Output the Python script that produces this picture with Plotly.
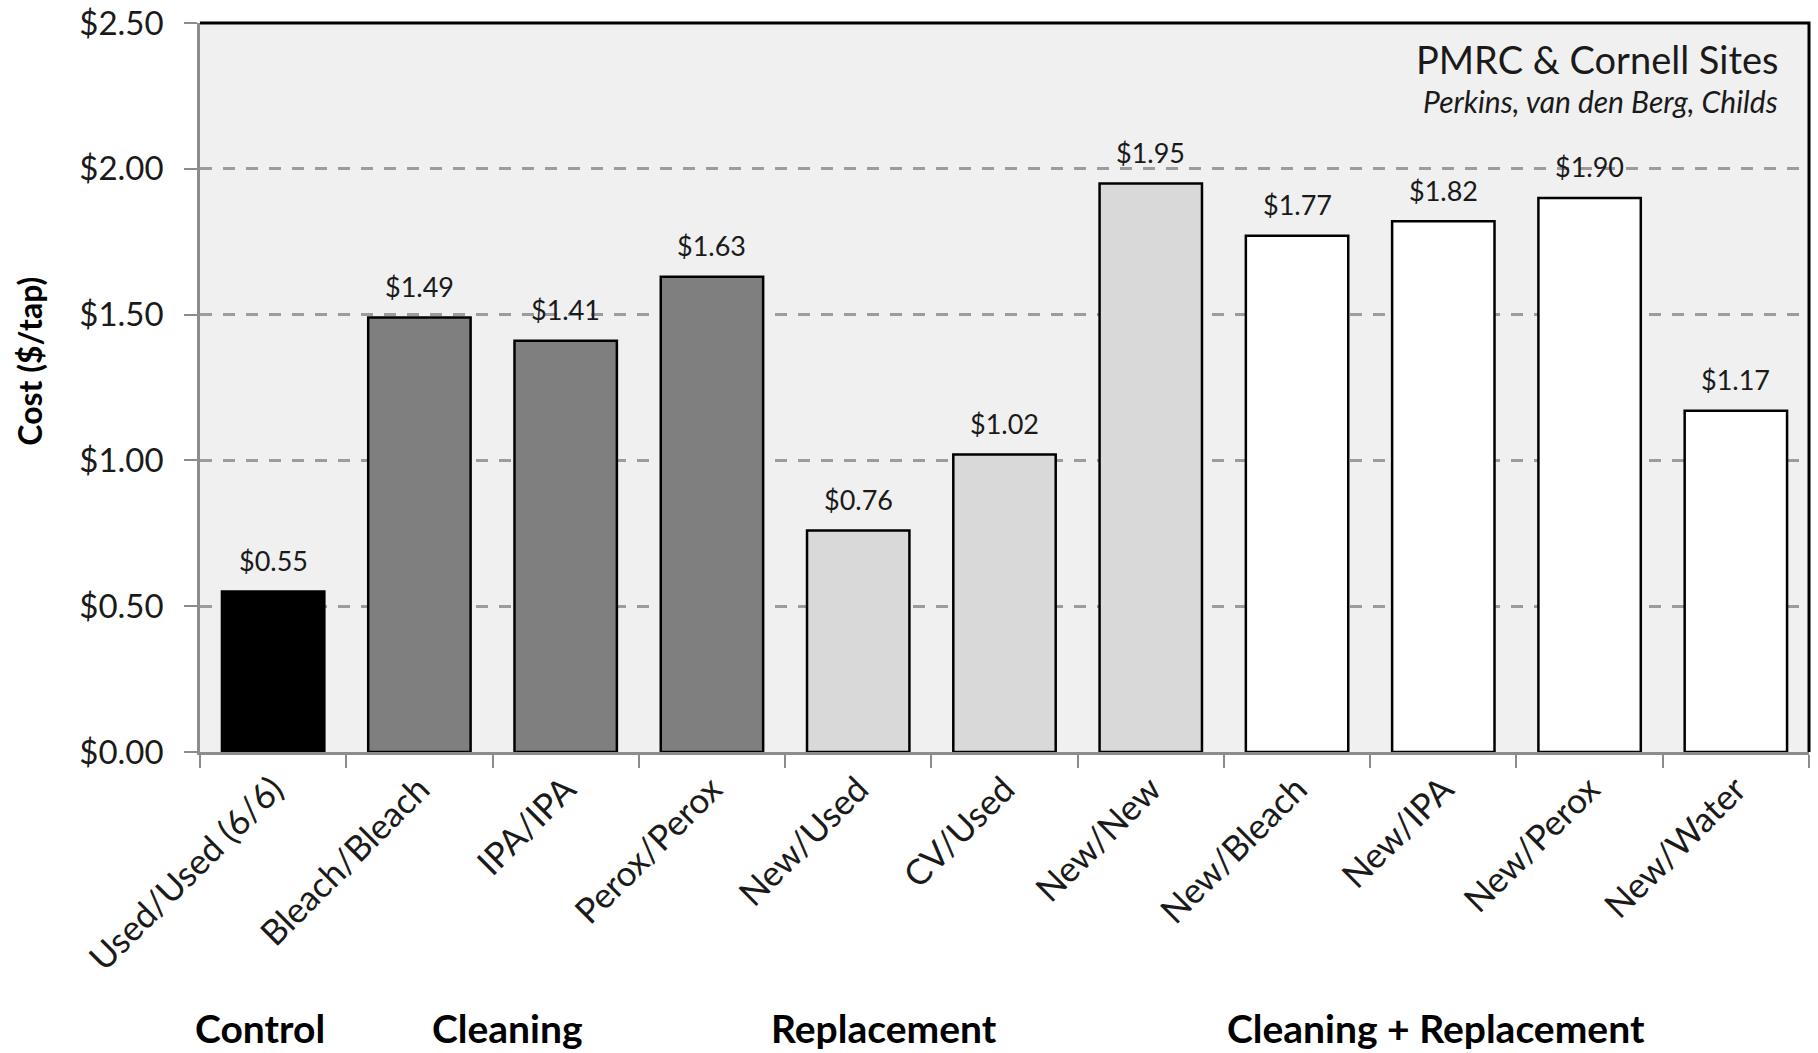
import plotly.graph_objects as go

# Cost per tap for each treatment (dollars)
categories = ["Used/Used (6/6)", "Bleach/Bleach", "IPA/IPA", "Perox/Perox",
              "New/Used", "CV/Used", "New/New",
              "New/Bleach", "New/IPA", "New/Perox", "New/Water"]
costs = [0.55, 1.49, 1.41, 1.63, 0.76, 1.02, 1.95, 1.77, 1.82, 1.90, 1.17]
groups = ["Control", "Cleaning", "Cleaning", "Cleaning",
          "Replacement", "Replacement", "Replacement",
          "Cleaning + Replacement", "Cleaning + Replacement",
          "Cleaning + Replacement", "Cleaning + Replacement"]
y_ticks = [0.0, 0.5, 1.0, 1.5, 2.0, 2.5]
y_tick_labels = [f"${v:.2f}" for v in y_ticks]

group_fill = {
    "Control": "#000000",
    "Cleaning": "#7f7f7f",
    "Replacement": "#d9d9d9",
    "Cleaning + Replacement": "#ffffff",
}
# horizontal placement (paper fraction) of the group captions under the axis
group_caption_x = {
    "Control": 0.037,
    "Cleaning": 0.191,
    "Replacement": 0.425,
    "Cleaning + Replacement": 0.768,
}

FONT = "Lato"
W, H = 1818, 1053
M_L, M_R, M_T, M_B = 200, 9, 23, 301

fig = go.Figure()
fig.add_trace(go.Bar(
    x=categories,
    y=costs,
    marker=dict(color=[group_fill[g] for g in groups],
                line=dict(color="#000000", width=2.5)),
    width=0.7,
    hoverinfo="x+y",
    showlegend=False,
))

annotations = []
# value labels above each bar
for c, v in zip(categories, costs):
    annotations.append(dict(
        x=c, y=v, xref="x", yref="y", text=f"${v:.2f}",
        showarrow=False, yanchor="middle", yshift=31,
        font=dict(family=FONT, size=27, color="#1a1a1a"),
    ))

# group captions below the category labels
for g, gx in group_caption_x.items():
    annotations.append(dict(
        x=gx, y=-0.379, xref="paper", yref="paper", text=f"<b>{g}</b>",
        showarrow=False, xanchor="center", yanchor="middle",
        font=dict(family=FONT, size=39, color="#000000"),
    ))

# y axis title
annotations.append(dict(
    x=-0.106, y=0.536, xref="paper", yref="paper", text="<b>Cost ($/tap)</b>",
    showarrow=False, textangle=-90, xanchor="center", yanchor="middle",
    font=dict(family=FONT, size=32, color="#000000"),
))

# site / author note in the upper right
annotations.append(dict(
    x=0.982, y=0.951, xref="paper", yref="paper", text="PMRC &amp; Cornell Sites",
    showarrow=False, xanchor="right", yanchor="middle",
    font=dict(family=FONT, size=38, color="#1a1a1a"),
))
annotations.append(dict(
    x=0.982, y=0.893, xref="paper", yref="paper",
    text="<i>Perkins, van den Berg, Childs</i>",
    showarrow=False, xanchor="right", yanchor="middle",
    font=dict(family=FONT, size=30, color="#1a1a1a"),
))

fig.update_layout(
    width=W, height=H,
    margin=dict(l=M_L, r=M_R, t=M_T, b=M_B, pad=0),
    paper_bgcolor="#ffffff",
    plot_bgcolor="#f0f0f0",
    bargap=0.3,
    annotations=annotations,
    font=dict(family=FONT, color="#1a1a1a"),
    shapes=[
        # black frame along the top and right of the plotting area
        dict(type="path", xref="paper", yref="paper",
             path="M 0,1 L 1,1 L 1,0",
             line=dict(color="#000000", width=3), layer="above"),
    ],
)

fig.update_xaxes(
    type="category",
    tickson="boundaries",
    ticks="outside", ticklen=13, tickwidth=2, tickcolor="#8c8c8c",
    showline=True, linecolor="#8c8c8c", linewidth=2.5,
    tickangle=-45,
    tickfont=dict(family=FONT, size=35, color="#1a1a1a"),
    showgrid=False,
    automargin=False,
)

fig.update_yaxes(
    range=[0, 2.5],
    tickvals=y_ticks,
    ticktext=y_tick_labels,
    ticks="outside", ticklen=13, tickwidth=2, tickcolor="#8c8c8c",
    showline=True, linecolor="#8c8c8c", linewidth=2.5,
    tickfont=dict(family=FONT, size=33, color="#1a1a1a"),
    ticklabelstandoff=14,
    showgrid=True, gridcolor="#9c9c9c", gridwidth=2.5, griddash="12px,11px",
    zeroline=False,
    automargin=False,
)

fig.write_html("out.html")
